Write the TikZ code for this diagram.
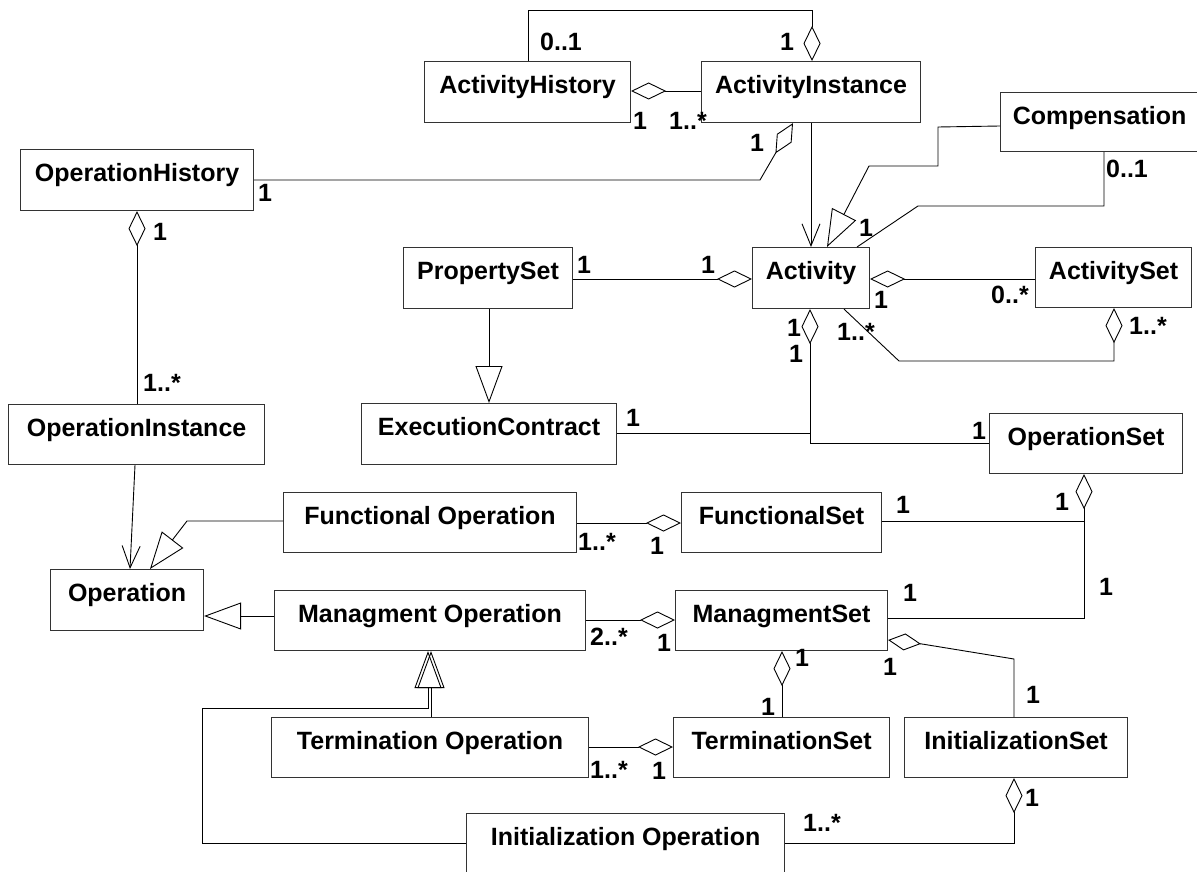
\documentclass[tikz,border=0pt]{standalone}
\usepackage{fontspec}
\setmainfont{Liberation Sans}
\usetikzlibrary{arrows.meta}
\begin{document}
\begin{tikzpicture}[x=1pt,y=-1pt,
  every node/.style={font=\bfseries\fontsize{25}{30}\selectfont},
  cls/.style={draw=black!80, line width=1.1pt, anchor=north west, inner sep=0pt,
              text height=32pt, text depth=29pt},
  mult/.style={inner sep=0pt},
  conn/.style={draw=black, line width=0.9pt},
  aggr/.style={conn, -{Diamond[open,length=35pt,width=17pt]}},
  gen/.style={conn, -{Triangle[open,length=37pt,width=27pt]}},
  nav/.style={conn, -{Straight Barb[length=22pt,width=18pt]}},
]
\useasboundingbox (0,0) rectangle (1197,872);
\fill[white] (0,0) rectangle (1197,872);
\clip (0,0) rectangle (1197,872);

% classes
\node[cls, minimum width=206] (AH) at (424,61) {ActivityHistory};
\node[cls, minimum width=219] (AI) at (701,61) {ActivityInstance};
\node[cls, minimum width=198, text depth=27pt] (Comp) at (1000,92) {Compensation};
\node[cls, minimum width=233] (OH) at (20,149) {OperationHistory};
\node[cls, minimum width=169] (PS) at (403,247) {PropertySet};
\node[cls, minimum width=117] (Act) at (752,247) {Activity};
\node[cls, minimum width=156, text depth=28pt] (AS) at (1035,247) {ActivitySet};
\node[cls, minimum width=256, text depth=28pt] (OI) at (8,404) {OperationInstance};
\node[cls, minimum width=255] (EC) at (361,403) {ExecutionContract};
\node[cls, minimum width=193, text depth=28pt] (OS) at (989,413) {OperationSet};
\node[cls, minimum width=293, text depth=28pt] (FO) at (283,492) {Functional Operation};
\node[cls, minimum width=200, text depth=28pt] (FS) at (681,492) {FunctionalSet};
\node[cls, minimum width=153] (Op) at (50,569) {Operation};
\node[cls, minimum width=311, text depth=28pt] (MO) at (274,590) {Managment Operation};
\node[cls, minimum width=212, text depth=28pt] (MS) at (675,590) {ManagmentSet};
\node[cls, minimum width=317, text depth=28pt] (TO) at (271,717) {Termination Operation};
\node[cls, minimum width=216, text depth=28pt] (TS) at (673,717) {TerminationSet};
\node[cls, minimum width=223, text depth=28pt] (IS) at (904,717) {InitializationSet};
\node[cls, minimum width=318] (IO) at (466,813) {Initialization Operation};

% activity history / instance
\draw[aggr] (528,0 |- AH.north) -- (528,10) -- (812,10) -- (812,0 |- AI.north);
\draw[aggr] (AI.west |- 0,91) -- (AH.east |- 0,91);
\draw[aggr] (OH.east |- 0,180) -- (760,180) -- (793,0 |- AI.south);
\draw[nav] (811,0 |- AI.south) -- (811,0 |- Act.north);

% compensation
\draw[gen] (Comp.west |- 0,126) -- (938,127) -- (938,166) -- (869,166) -- (827,0 |- Act.north);
\draw[conn] (1104,0 |- Comp.south) -- (1104,206) -- (918,206) -- (857,0 |- Act.north);

% activity neighbourhood
\draw[aggr] (PS.east |- 0,279) -- (Act.west |- 0,279);
\draw[aggr] (AS.west |- 0,279) -- (Act.east |- 0,279);
\draw[aggr] (844,0 |- Act.south) -- (899,361) -- (1114,361) -- (1114,0 |- AS.south);
\draw[aggr] (OS.west |- 0,443) -- (810,443) -- (810,0 |- Act.south);
\draw[conn] (EC.east |- 0,433) -- (810,433);
\draw[gen] (489,0 |- PS.south) -- (489,0 |- EC.north);

% operation history / instance
\draw[aggr] (137,0 |- OI.north) -- (137,0 |- OH.south);
\draw[nav] (135,0 |- OI.south) -- (130,0 |- Op.north);

% operations
\draw[gen] (FO.west |- 0,521) -- (187,521) -- (150,0 |- Op.north);
\draw[aggr] (FO.east |- 0,523) -- (FS.west |- 0,523);
\draw[conn] (FS.east |- 0,521) -- (1084,521);
\draw[aggr] (MS.east |- 0,618) -- (1084,618) -- (1084,0 |- OS.south);
\draw[gen] (MO.west |- 0,616) -- (Op.east |- 0,616);
\draw[aggr] (MO.east |- 0,620) -- (MS.west |- 0,620);
\draw[aggr] (782,0 |- TS.north) -- (782,0 |- MS.south);
\draw[conn, -{Diamond[open,length=33pt,width=17pt]}] (1014,0 |- IS.north) -- (1014,659) -- (922,644) -- (MS.east |- 0,640);
\draw[aggr] (TO.east |- 0,747) -- (TS.west |- 0,747);
\draw[aggr] (IO.east |- 0,843) -- (1014,843) -- (1014,0 |- IS.south);
\draw[gen] (IO.west |- 0,843) -- (202,843) -- (202,708) -- (428,708) -- (428,0 |- MO.south);
\draw[gen] (431,0 |- TO.north) -- (431,0 |- MO.south);

% multiplicities
\node[mult] (m1) at (561,42) {0..1};
\node[mult] (m2) at (787,42) {1};
\node[mult] (m3) at (640,121) {1};
\node[mult] (m4) at (688,121) {1..*};
\node[mult] (m5) at (757,143) {1};
\node[mult] (m6) at (265,193) {1};
\node[mult] (m7) at (160,232) {1};
\node[mult] (m8) at (162,383) {1..*};
\node[mult] (m9) at (866,228) {1};
\node[mult] (m10) at (1127,169) {0..1};
\node[mult] (m11) at (584,265) {1};
\node[mult] (m12) at (708,265) {1};
\node[mult] (m13) at (881,300) {1};
\node[mult] (m14) at (1010,295) {0..*};
\node[mult] (m15) at (856,332) {1..*};
\node[mult] (m16) at (1148,326) {1..*};
\node[mult] (m17) at (794,328) {1};
\node[mult] (m18) at (796,354) {1};
\node[mult] (m19) at (633,418) {1};
\node[mult] (m20) at (979,431) {1};
\node[mult] (m21) at (597,542) {1..*};
\node[mult] (m22) at (657,546) {1};
\node[mult] (m23) at (903,505) {1};
\node[mult] (m24) at (1062,502) {1};
\node[mult] (m25) at (1106,587) {1};
\node[mult] (m26) at (910,593) {1};
\node[mult] (m27) at (609,637) {2..*};
\node[mult] (m28) at (664,643) {1};
\node[mult] (m29) at (802,658) {1};
\node[mult] (m30) at (890,667) {1};
\node[mult] (m31) at (768,707) {1};
\node[mult] (m32) at (1033,695) {1};
\node[mult] (m33) at (609,770) {1..*};
\node[mult] (m34) at (659,771) {1};
\node[mult] (m35) at (1032,798) {1};
\node[mult] (m36) at (822,823) {1..*};
\end{tikzpicture}
\end{document}
